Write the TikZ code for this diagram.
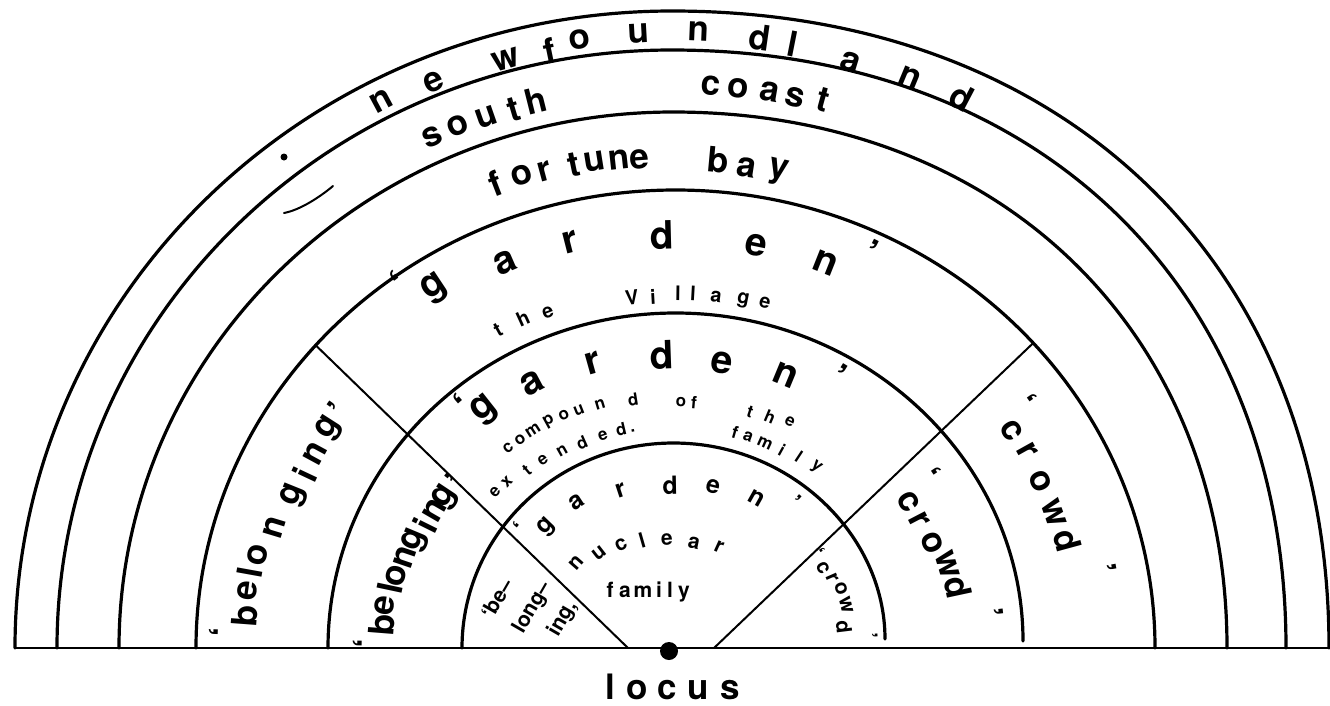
\documentclass[tikz,border=0pt]{standalone}
\usepackage{fontspec}
\setmainfont{TeX Gyre Heros}
\usetikzlibrary{calc,intersections}
\newcommand\curvetext[3]{%
  \foreach \px/\py/\ch [count=\k] in {#3}{%
    \pgfmathsetmacro\rot{atan2(648-\py,\px-673)-90}%
    \node[#1,inner sep=0pt,rotate=\rot] (#2\k) at (\px,\py) {\ch};%
  }}
% name, cx, a, b, k left, k right, end y
\newcommand\archcurve[7]{%
  \draw[arch,name path=#1] ({#2-#3},648) .. controls ({#2-#3},{648-#5*#4}) and ({#2-#5*#3},{648-#4}) .. (#2,{648-#4}) .. controls ({#2+#6*#3},{648-#4}) and ({#2+#3},{648-#6*#4}) .. ({#2+#3},#7);}
\tikzset{
  arch/.style={line width=3.2pt,line cap=round,line join=round},
  diag/.style={line width=2pt},
  baseln/.style={line width=2.4pt},
  Lg/.style={font=\fontsize{35}{40}\selectfont\bfseries},
  XL/.style={font=\fontsize{39}{44}\selectfont\bfseries},
  Md/.style={font=\fontsize{25}{30}\selectfont\bfseries},
  Sm/.style={font=\fontsize{21}{25}\selectfont\bfseries},
  Sv/.style={font=\fontsize{20}{24}\selectfont\bfseries},
  Xs/.style={font=\fontsize{17}{20}\selectfont\bfseries},
}
\begin{document}
\begin{tikzpicture}[x=1pt,y=-1pt]
\fill[white] (0,0) rectangle (1330,705);
\useasboundingbox (0,0) rectangle (1330,705);

% arches
\archcurve{a1}{672}{657}{637}{0.5523}{0.60}{648}
\archcurve{a2}{671.5}{614.5}{598}{0.5523}{0.60}{648}
\archcurve{a3}{673}{554}{536}{0.5523}{0.59}{648}
\archcurve{a4}{675.5}{479.5}{458}{0.5523}{0.5523}{648}
\archcurve{a5}{675.5}{347.5}{335}{0.5523}{0.5523}{641}
\archcurve{a6}{673.5}{211.5}{205}{0.5523}{0.5523}{639}

% baseline
\coordinate (b0) at (15,648);
\coordinate (b1) at (1330,648);
\draw[baseln] (b0) -- (b1);

% diagonals
\coordinate (dlbot) at (628,648);
\coordinate (drbot) at (714,648);
\path[name path=dlray] (dlbot) -- (300,330);
\path[name path=drray] (drbot) -- (1050,327);
\path[name intersections={of=a4 and dlray,by=dltop}];
\path[name intersections={of=a4 and drray,by=drtop}];
\draw[diag] (dlbot) -- (dltop);
\draw[diag] (drbot) -- (drtop);

% locus dot
\node[circle,fill,inner sep=0pt,minimum size=18pt] (locusdot) at (669,651) {};

% stray marks of the original
\draw[line width=2pt,line cap=round] (284,213) .. controls (300,210) and (320,197) .. (333,186);
\fill (284,157) circle (3.5);

% outer bands
\curvetext{Lg}{nf}{381/101/n, 434/82/e, 506/60/w, 550/51/f, 580/40/o, 639/34/u, 699/31/n, 760/38/d, 793/44/l, 851/62/a, 910/78/n, 962/97/d}
\curvetext{Lg}{sc}{432/137/s, 458/126/o, 487/117/u, 514/110/t, 536/101/h, 711/86/c, 738/88/o, 770/92/a, 795/97/s, 823/100/t}
\curvetext{Lg}{fb}{495/183/f, 522/175/o, 545/171/r, 574/165/t, 595/162/u, 619/160/n, 640/159/e, 718/160/b, 747/168/a, 778/172/y}

% village
\curvetext{XL}{gv}{399/283/`, 435/289/g, 505/263/a, 570/242/r, 662/235/d, 756/245/e, 826/263/n, 871/253/'}
\curvetext{Sv}{tv}{498/330/t, 523/318/h, 548/312/e, 632/297/V, 653/297/i, 678/293/l, 693/293/l, 716/297/a, 743/300/g, 765/303/e}

% extended family
\curvetext{XL}{gm}{463/405/`, 485/410/g, 532/383/a, 593/363/r, 662/355/d, 722/363/e, 786/375/n, 839/377/'}
\curvetext{Xs}{cp}{508/448/c, 520/440/o, 533/430/m, 549/422/p, 564/415/o, 579/410/u, 600/405/n, 633/400/d, 681/402/o, 694/403/f, 750/412/t, 770/417/h, 790/422/e}
\curvetext{Xs}{ex}{495/492/e, 507/482/x, 527/470/t, 543/460/e, 562/451/n, 582/443/d, 603/436/e, 621/429/d, 633/431/.}
\curvetext{Xs}{fe}{735/432/f, 748/437/a, 765/443/m, 782/450/i, 799/457/l, 816/467/y}

% nuclear family
\curvetext{Md}{gn}{520/528/`, 547/527/g, 577/502/a, 621/490/r, 670/485/d, 713/487/e, 757/498/n, 795/503/'}
\curvetext{Sm}{nu}{576/563/n, 599/553/u, 621/545/c, 642/540/l, 667/540/e, 694/543/a, 719/547/r}
\foreach \px/\ch [count=\k] in {610/f, 625/a, 643/m, 659/i, 670/l, 684/y}
  \node[Sm,inner sep=0pt,anchor=base] (fn\k) at (\px,597) {\ch};

% belonging
\curvetext{Lg}{bo}{222/632/`, 245/616/b, 247/591/e, 250/572/l, 258/555/o, 274/527/n, 294/495/g, 305/475/i, 315/454/n, 329/428/g, 339/410/'}
\curvetext{Lg}{bi}{366/643/`, 382/625/b, 385/605/e, 390/588/l, 396/576/o, 405/557/n, 415/540/g, 425/525/i, 435/510/n, 446/497/g, 456/482/'}
\node[Sm,inner sep=0pt,rotate=60] (bl1) at (497,599) {`be--};
\node[Sm,inner sep=0pt,rotate=60] (bl2) at (533,608) {long--};
\node[Sm,inner sep=0pt,rotate=60] (bl3) at (563,619) {ing,};

% crowd
\curvetext{Lg}{co}{1026/402/`, 1012/431/c, 1027/451/r, 1041/481/o, 1054/513/w, 1067/541/d, 1104/569/'}
\curvetext{Lg}{cm}{930/475/`, 909/502/c, 919/520/r, 932/543/o, 947/565/w, 958/587/d, 991/613/'}
\curvetext{Sm}{ci}{818/553/`, 823/568/c, 832/578/r, 841/589/o, 846/605/w, 844/627/d, 870/636/'}

% locus
\foreach \px/\ch [count=\k] in {610/l, 637/o, 667/c, 698/u, 730/s}
  \node[Lg,inner sep=0pt,anchor=base] (lo\k) at (\px,699) {\ch};
\end{tikzpicture}
\end{document}
